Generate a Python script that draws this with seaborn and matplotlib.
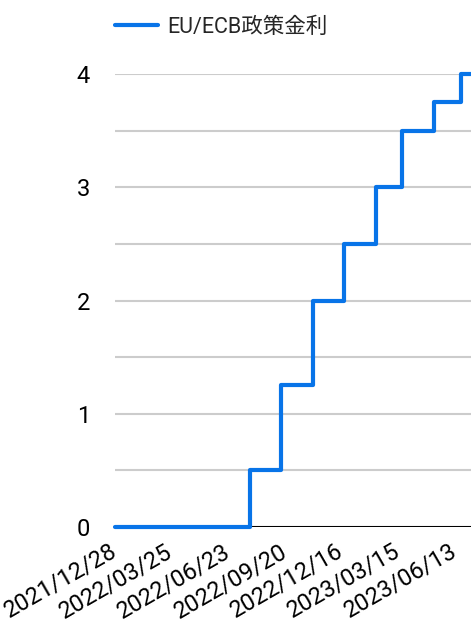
import matplotlib
matplotlib.use('Agg')
import matplotlib.pyplot as plt
import matplotlib.transforms as mtransforms
import seaborn as sns
import pandas as pd

# ECB policy rate change dates and levels
change_dates = ['2021-12-28', '2022-07-27', '2022-09-14', '2022-11-02', '2022-12-21',
                '2023-02-08', '2023-03-22', '2023-05-10', '2023-06-21', '2023-07-07']
rates = [0, 0.5, 1.25, 2.0, 2.5, 3.0, 3.5, 3.75, 4.0, 4.0]
tick_dates = ['2021-12-28', '2022-03-25', '2022-06-23', '2022-09-20',
              '2022-12-16', '2023-03-15', '2023-06-13']
tick_labels = ['2021/12/28', '2022/03/25', '2022/06/23', '2022/09/20',
               '2022/12/16', '2023/03/15', '2023/06/13']
series_name = 'EU/ECB政策金利'

df = pd.DataFrame({'date': pd.to_datetime(change_dates), 'rate': rates})

sns.set_theme(style='white')
plt.rcParams['font.family'] = ['Roboto', 'Noto Sans CJK JP', 'DejaVu Sans']

fig = plt.figure(figsize=(4.71, 6.34), dpi=100)
ax = fig.add_axes([115 / 471, 107 / 634, 356 / 471, 453 / 634])

sns.lineplot(data=df, x='date', y='rate', ax=ax, color='#0874e8', linewidth=3,
             drawstyle='steps-post', label=series_name, zorder=4, clip_on=False)
ax.axhline(0, color='black', linewidth=2.2, zorder=3)

ax.set_xlim(df['date'].iloc[0], df['date'].iloc[-1])
ax.set_ylim(0, 4)
ax.set_yticks([0, 1, 2, 3, 4])
ax.set_yticks([0.5, 1.5, 2.5, 3.5], minor=True)
ax.grid(True, axis='y', which='both', color='#cccccc', linewidth=1.5)
ax.set_axisbelow(True)

ax.set_xticks(pd.to_datetime(tick_dates))
ax.set_xticklabels(tick_labels, rotation=30, ha='right', rotation_mode='anchor')
ax.tick_params(axis='both', length=0, colors='black')
ax.tick_params(axis='y', pad=18, labelsize=17)
ax.tick_params(axis='x', pad=9, labelsize=17)
shift = mtransforms.ScaledTranslation(-6 / 100, 0, fig.dpi_scale_trans)
for lbl in ax.get_xticklabels():
    lbl.set_transform(lbl.get_transform() + shift)
ax.set_xlabel('')
ax.set_ylabel('')
for s in ax.spines.values():
    s.set_visible(False)

ax.legend_.remove()
handles, labels = ax.get_legend_handles_labels()
fig.legend(handles, labels, loc='center left', bbox_to_anchor=(115 / 471, 1 - 27 / 634),
           frameon=False, fontsize=15.5, handlelength=2.0, handletextpad=0.45,
           borderpad=0, borderaxespad=0)

fig.savefig('out.png', dpi=100)
